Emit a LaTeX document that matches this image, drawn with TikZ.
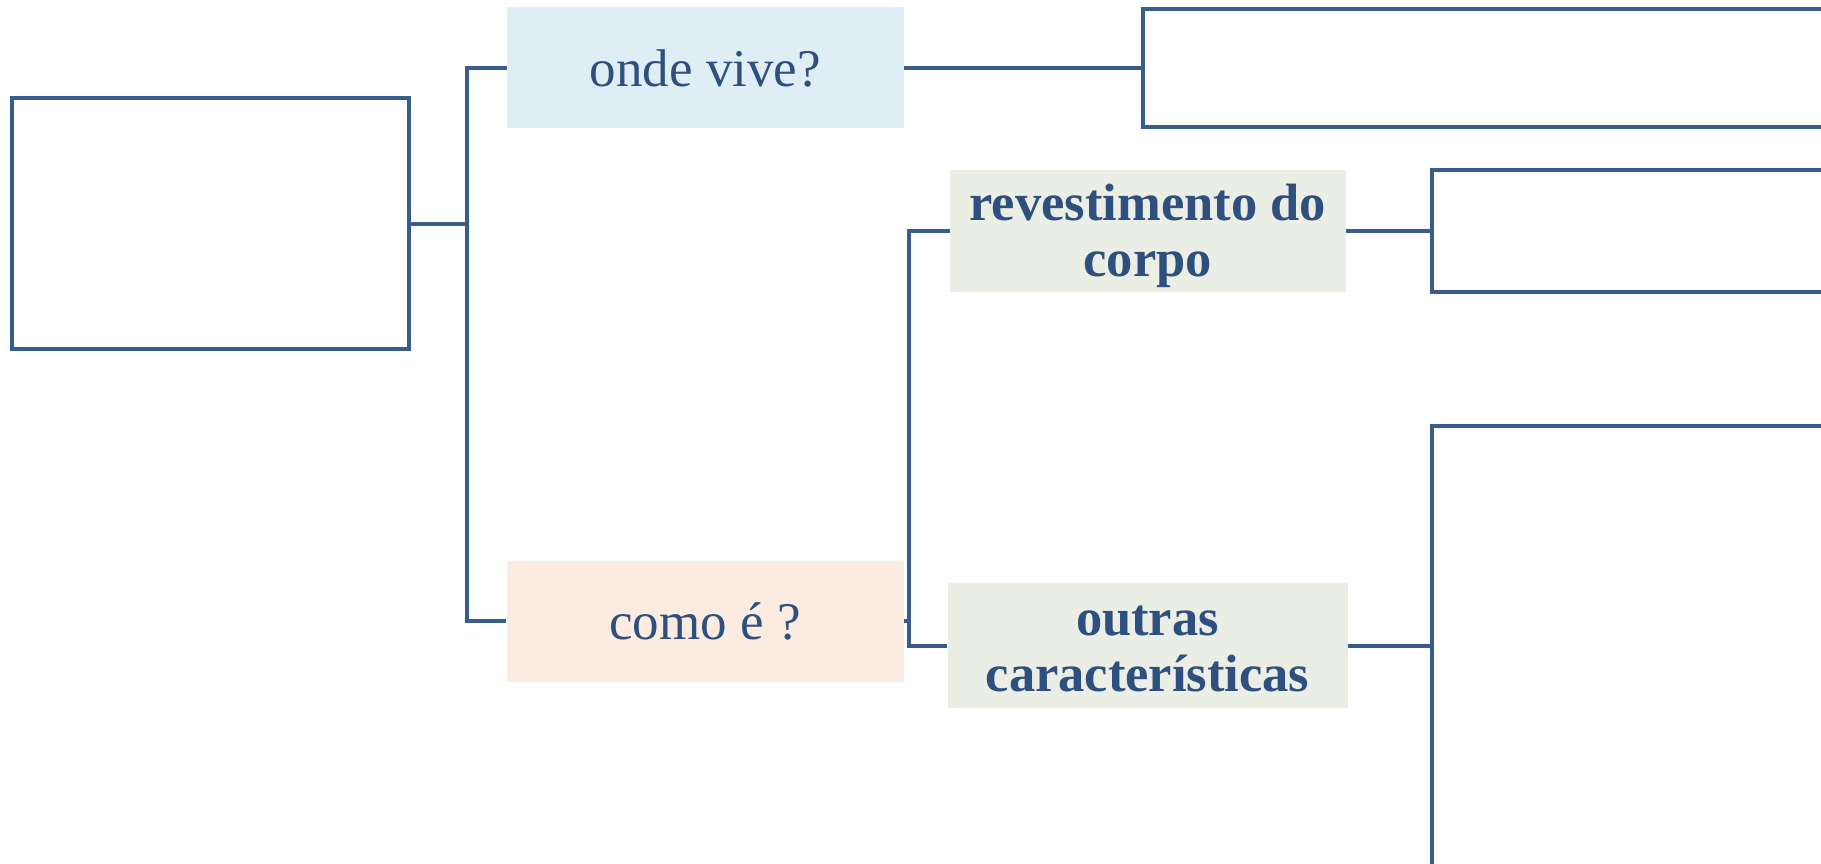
\documentclass[tikz,border=0pt]{standalone}
\usepackage{fontspec}
\setmainfont{Liberation Serif}
\definecolor{lineblue}{HTML}{385D8A}
\definecolor{textblue}{HTML}{2F4F7F}
\definecolor{fillblue}{HTML}{DFEEF5}
\definecolor{fillpeach}{HTML}{FBEBE0}
\definecolor{fillgreen}{HTML}{EBEEE5}
\newcommand{\lowered}[1]{\raisebox{-6pt}[\height][\depth]{\begin{tabular}{@{}c@{}}#1\end{tabular}}}
\tikzset{
  link/.style={draw=lineblue, line width=4pt},
  emptybox/.style={draw=lineblue, line width=4pt, fill=white, inner sep=0pt},
  labelbox/.style={inner sep=0pt, text=textblue, align=center,
    font=\fontsize{53}{56}\selectfont},
  boldbox/.style={inner sep=0pt, text=textblue,
    font=\fontsize{52.5}{56}\selectfont\bfseries},
}
\begin{document}
\begin{tikzpicture}[x=1pt,y=-1pt]
\useasboundingbox (0,0) rectangle (1821,864);
% empty boxes
\node[emptybox, minimum width=397pt, minimum height=250pt] (root) at (210.3,223.5) {};
\node[emptybox, minimum width=697pt, minimum height=118.5pt] (box1) at (1491.4,68) {};
\node[emptybox, minimum width=408pt, minimum height=121pt] (box2) at (1636,231) {};
\node[emptybox, minimum width=408pt, minimum height=474.5pt] (box3) at (1636,662.75) {};
% labelled boxes
\node[labelbox, fill=fillblue, minimum width=397pt, minimum height=121pt] (onde) at (705.5,68) {onde vive?};
\node[labelbox, fill=fillpeach, minimum width=397pt, minimum height=121pt] (como) at (705,621) {como é ?};
\node[boldbox, fill=fillgreen, minimum width=396pt, minimum height=121pt] (revest) at (1147.7,231) {\lowered{revestimento do\\corpo}};
\node[boldbox, fill=fillgreen, minimum width=400pt, minimum height=125pt] (outras) at (1147.5,645.8) {\lowered{outras\\características}};
% junctions
\coordinate (j1) at (467,223.5);
\coordinate (j2) at (909,621);
% connectors
\draw[link] (root.east) -- (j1);
\draw[link] (onde.west) -- (onde.west -| j1) -- (como.west -| j1) -- (como.west);
\draw[link] (onde.east) -- (box1.west);
\draw[link] (como.east) -- (j2);
\draw[link] (revest.west) -- (revest.west -| j2) -- (outras.west -| j2) -- (outras.west);
\draw[link] (revest.east) -- (box2.west);
\draw[link] (outras.east) -- (outras.east -| box3.west);
\end{tikzpicture}
\end{document}
